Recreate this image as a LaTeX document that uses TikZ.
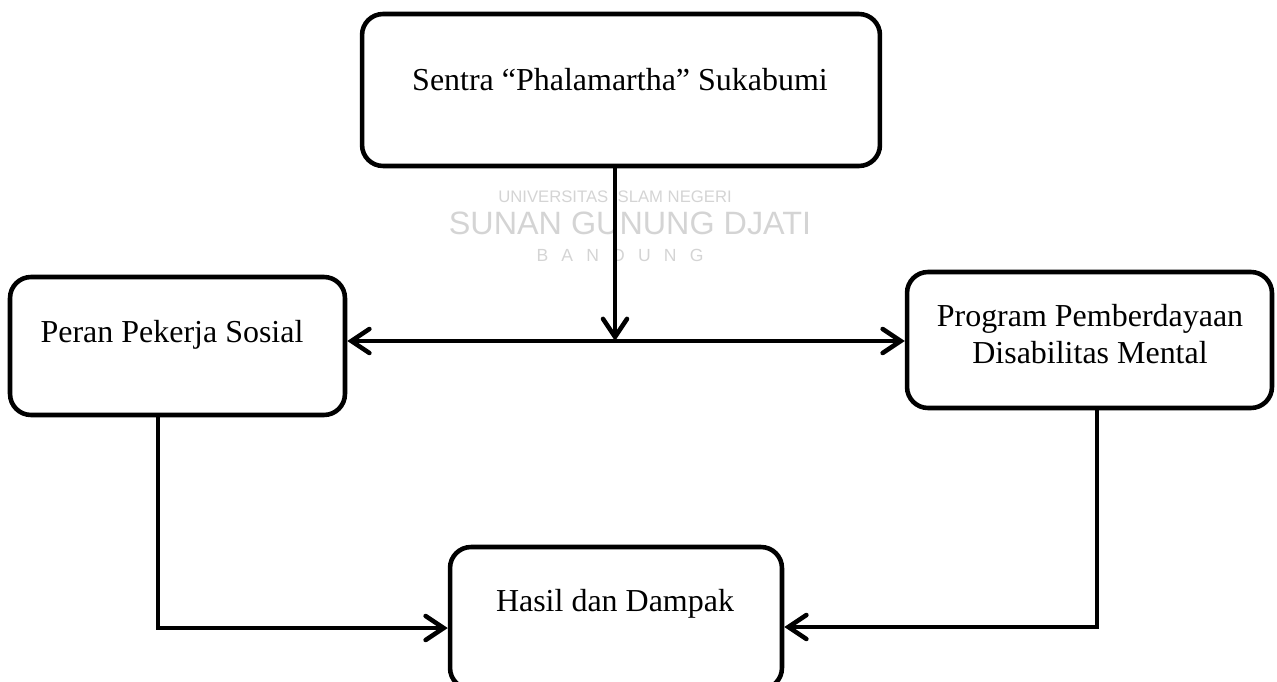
\documentclass[tikz,border=0pt]{standalone}
\usepackage{fontspec}
\setmainfont{Liberation Serif}
\newfontfamily\wmfont{Liberation Sans}
\usetikzlibrary{arrows.meta}
\tikzstyle{kotak}=[draw, line width=2.6pt, rounded corners=0.42cm, inner sep=0pt]
\tikzstyle{teks}=[inner sep=0pt, align=center, font=\fontsize{18.2}{21.5}\selectfont]
\tikzstyle{panah}=[line width=2.6pt, -{Straight Barb[length=0.36cm, width=0.48cm, line cap=round]}]
\tikzstyle{wm}=[inner sep=0pt, text=black!17, font=\wmfont]

\begin{document}
\begin{tikzpicture}[x=0.02cm, y=-0.02cm]
        \useasboundingbox (0, 0) rectangle (1277, 682);
        % watermark
        \node[wm, font=\wmfont\fontsize{9.5}{10}\selectfont]  (wm1) at (615, 197) {UNIVERSITAS ISLAM NEGERI};
        \node[wm, font=\wmfont\fontsize{18.4}{19}\selectfont] (wm2) at (630, 223) {SUNAN GUNUNG DJATI};
        \node[wm, font=\wmfont\fontsize{10}{11}\selectfont]   (wm3) at (620, 255)
            {B\hspace{7.5pt}A\hspace{7.5pt}N\hspace{7.5pt}D\hspace{7.5pt}U\hspace{7.5pt}N\hspace{7.5pt}G};
        % kotak
        \node[kotak, minimum width=10.36cm, minimum height=3.04cm] (sentra) at (621, 90) {};
        \node[kotak, minimum width=6.7cm, minimum height=2.76cm]   (peran) at (177.5, 346) {};
        \node[kotak, minimum width=7.3cm, minimum height=2.72cm]   (program) at (1089.5, 340) {};
        \node[kotak, minimum width=6.64cm, minimum height=2.84cm]  (hasil) at (616, 618) {};
        % teks
        \node[teks] (tsentra) at (620, 80) {Sentra “Phalamartha” Sukabumi};
        \node[teks] (tperan) at (172, 335) {Peran Pekerja Sosial};
        \node[teks] (tprogram) at (1090, 334) {Program Pemberdayaan\\Disabilitas Mental};
        \node[teks] (thasil) at (615, 604) {Hasil dan Dampak};
        % panah
        \coordinate (tengah) at (615, 341);
        \coordinate (kiri) at (158, 628);
        \coordinate (kanan) at (1097, 627);
        \draw[panah] (sentra.south -| tengah) -- (tengah);
        \draw[panah] (tengah) -- (peran.east |- tengah);
        \draw[panah] (tengah) -- (program.west |- tengah);
        \draw[panah] (peran.south -| kiri) -- (kiri) -- (hasil.west |- kiri);
        \draw[panah] (program.south -| kanan) -- (kanan) -- (hasil.east |- kanan);
    \end{tikzpicture}
\end{document}
